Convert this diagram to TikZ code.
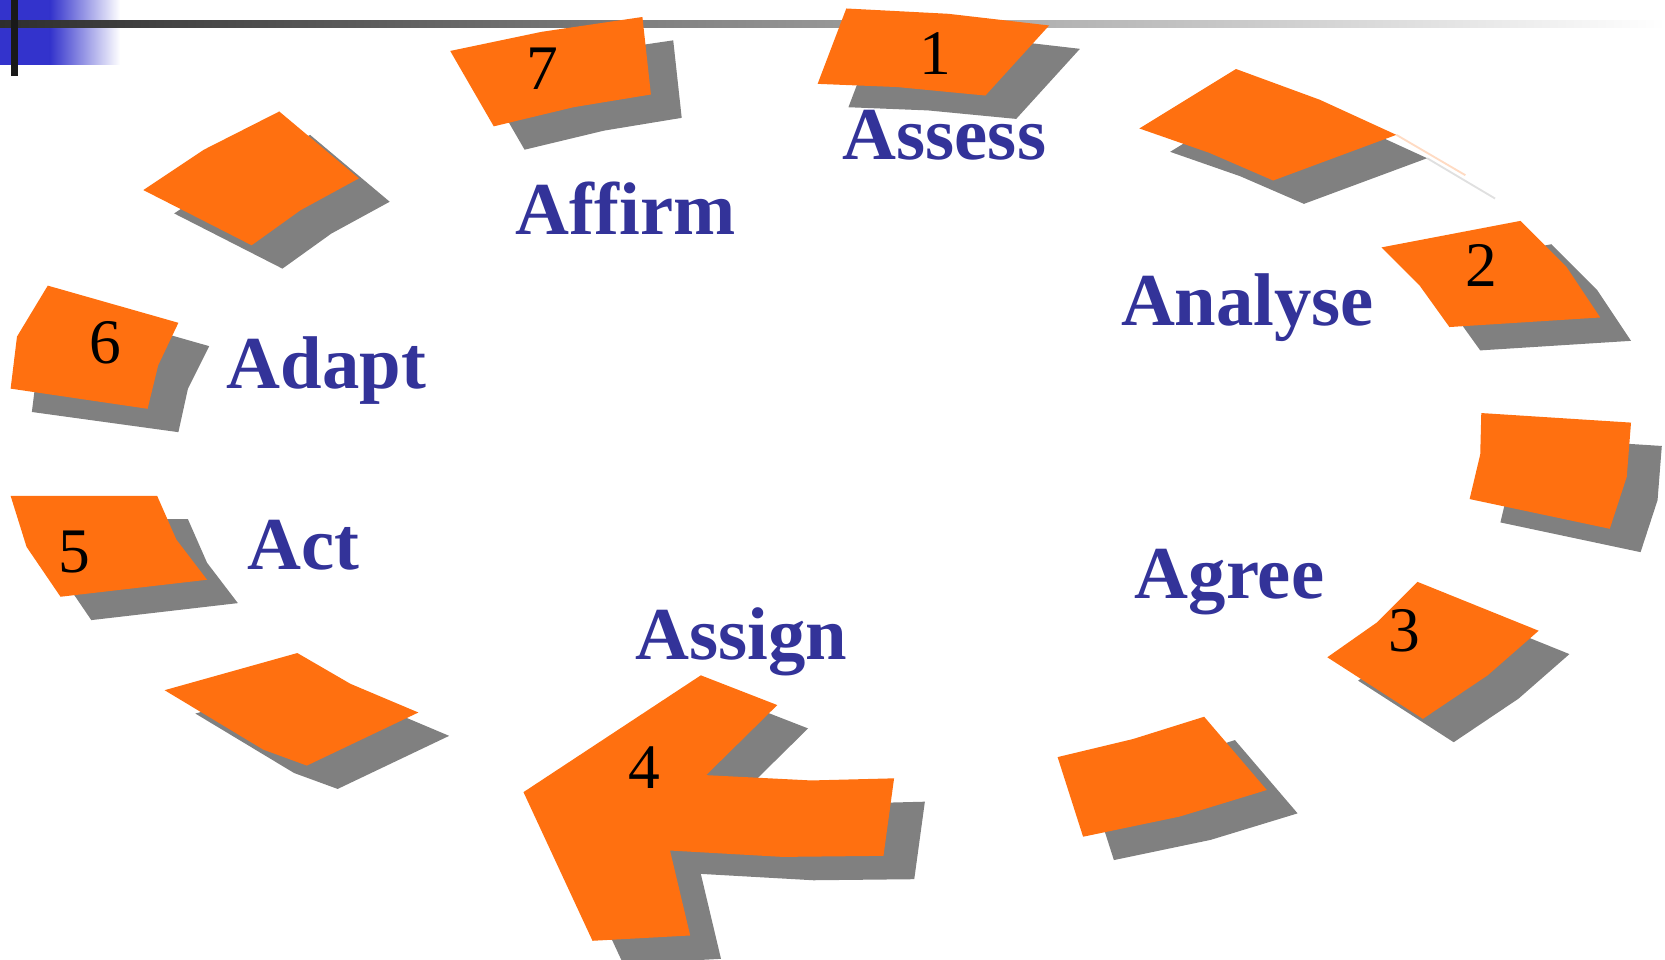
\documentclass[tikz,border=0pt]{standalone}
\usepackage{fontspec}
\setmainfont{Liberation Serif}
\definecolor{cardorange}{RGB}{255,112,16}
\definecolor{cardshadow}{RGB}{128,128,128}
\definecolor{labelblue}{RGB}{51,51,153}
\definecolor{barblue}{RGB}{51,51,204}
\tikzset{
  steplabel/.style={font=\fontsize{20}{24}\selectfont\bfseries, text=labelblue, anchor=base west, inner sep=0pt},
  stepnum/.style={font=\fontsize{17}{20}\selectfont, text=black, inner sep=0pt},
}
% an orange sheet with its grey drop shadow
\newcommand\sheet[1]{\fill[cardshadow,shift={(29,22)}] #1; \fill[cardorange] #1;}
% same, with a shadow outline of its own
\newcommand\sheetshadow[2]{\fill[cardshadow] #1; \fill[cardorange] #2;}

\begin{document}
\begin{tikzpicture}[x=0.01cm,y=-0.01cm]
\useasboundingbox (0,0) rectangle (1568,904);

% corner ornament
\fill[barblue] (0,0) rectangle (47,61);
\shade[left color=barblue,right color=white] (47,0) rectangle (113,61);
\shade[left color=black!82,right color=white] (0,19) rectangle (1568,25.5);
\fill[black!90] (10.5,0) rectangle (17,72);

% sheets around the cycle
\sheet{(797,8) -- (893,13) -- (988,24) -- (928,90) -- (845,82) -- (770,79) -- cycle}
\sheet{(1073,121) -- (1164,65) -- (1243,94) -- (1315,127) -- (1199,170) -- (1139,144) -- cycle}
\draw[cardorange!25, line width=0.5pt] (1315,127) -- (1380,165);
\draw[black!12, line width=0.5pt] (1344,149) -- (1408,187);
\sheet{(1301,233) -- (1432,208) -- (1475,251) -- (1507,299) -- (1365,308) -- (1337,269) -- cycle}
\sheet{(1395,389) -- (1536,398) -- (1532,449) -- (1516,498) -- (1384,470) -- (1394,428) -- cycle}
\sheet{(1250,619) -- (1297,586) -- (1335,548) -- (1449,594) -- (1401,636) -- (1340,677) -- cycle}
\sheet{(996,713) -- (1067,696) -- (1134,675) -- (1193,744) -- (1111,769) -- (1020,788) -- cycle}
\sheet{(493,746) -- (660,636) -- (732,664) -- (665,730) -- (764,735) -- (842,733) -- (832,806) -- (737,807) -- (631,801) -- (650,881) -- (558,886) -- cycle}
\sheet{(155,650) -- (280,615) -- (330,644) -- (394,671) -- (289,721) -- (248,706) -- cycle}
\sheet{(10,467) -- (148,467) -- (166,508) -- (195,546) -- (57,562) -- (25,515) -- cycle}
\sheetshadow{(74,291) -- (197,326) -- (177,366) -- (168,407) -- (30,388) -- (36,340) -- cycle}
            {(45,269) -- (168,304) -- (149,344) -- (139,385) -- (10,366) -- (16,317) -- cycle}
\sheet{(135,179) -- (192,141) -- (263,105) -- (338,168) -- (283,198) -- (237,231) -- cycle}
\sheet{(424,48) -- (510,30) -- (605,16) -- (613,89) -- (540,101) -- (465,119) -- cycle}

% step numbers
\node[stepnum] (n1) at (881,50) {1};
\node[stepnum] (n2) at (1395,250) {2};
\node[stepnum] (n3) at (1323,594) {3};
\node[stepnum] (n4) at (607,723) {4};
\node[stepnum] (n5) at (70,520) {5};
\node[stepnum] (n6) at (99,323) {6};
\node[stepnum] (n7) at (511,65) {7};

% step names
\node[steplabel] (assess)  at (793,150)  {Assess};
\node[steplabel] (affirm)  at (485,221)  {Affirm};
\node[steplabel] (analyse) at (1055,307) {Analyse};
\node[steplabel] (adapt)   at (213,366)  {Adapt};
\node[steplabel] (act)     at (232,536)  {Act};
\node[steplabel] (agree)   at (1068,564) {Agree};
\node[steplabel] (assign)  at (598,621)  {Assign};
\end{tikzpicture}
\end{document}
